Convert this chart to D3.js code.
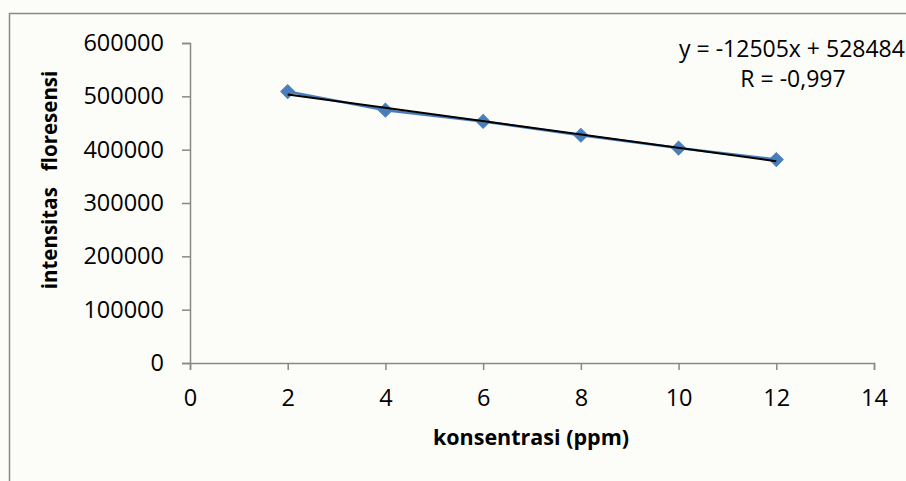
<!DOCTYPE html>
<html>
<head>
<meta charset="utf-8">
<script src="https://cdn.jsdelivr.net/npm/d3@7"></script>
<style>
  html, body { margin: 0; padding: 0; background: #fcfcf8; }
  svg { display: block; }
  text { font-family: "Open Sans", sans-serif; fill: #000; }
</style>
</head>
<body>
<svg id="vis" width="906" height="481"></svg>
<script>
// data
var konsentrasi = [2, 4, 6, 8, 10, 12];
var intensitas = [509000, 474000, 453000, 427000, 403000, 381500];
var xTicks = [0, 2, 4, 6, 8, 10, 12, 14];
var yTicks = [0, 100000, 200000, 300000, 400000, 500000, 600000];
var slope = -12505;
var intercept = 528484;
var eqText = "y = -12505x + 528484";
var rText = "R = -0,997";

var _vis = d3.select("#vis");
var AXIS_COLOR = "#888888";
var FONT = "'Open Sans', sans-serif";

var x = d3.scaleLinear().domain([0, 14]).range([190, 874]);
var y = d3.scaleLinear().domain([0, 600000]).range([363, 43]);

// chart border (right and bottom are cut off in the picture)
_vis.append("rect")
    .attr("x", 9.5).attr("y", 13.5)
    .attr("width", 1000).attr("height", 1000)
    .attr("fill", "none")
    .attr("stroke", AXIS_COLOR).attr("stroke-width", 1.5);

// y axis
var yAxis = _vis.append("g")
    .attr("transform", "translate(" + x(0) + ",0)")
    .call(d3.axisLeft(y).tickValues(yTicks).tickSize(8).tickPadding(18).tickFormat(d3.format("d")));

// x axis
var xAxis = _vis.append("g")
    .attr("transform", "translate(0," + y(0) + ")")
    .call(d3.axisBottom(x).tickValues(xTicks).tickSize(7).tickPadding(19).tickFormat(d3.format("d")));

[xAxis, yAxis].forEach(function(a) {
    a.select(".domain").attr("stroke", AXIS_COLOR).attr("stroke-width", 1.5);
    a.selectAll(".tick line").attr("stroke", AXIS_COLOR).attr("stroke-width", 1.5);
    a.selectAll(".tick text").attr("font-size", 23.5).attr("font-family", FONT).attr("fill", "#000");
});

// data line
var pts = konsentrasi.map(function(k, i) { return [k, intensitas[i]]; });
var line = d3.line().x(function(d) { return x(d[0]); }).y(function(d) { return y(d[1]); });

_vis.append("path")
    .datum(pts)
    .attr("d", line)
    .attr("fill", "none")
    .attr("stroke", "#4a7ebb")
    .attr("stroke-width", 2.5);

// markers (Excel style diamonds)
_vis.selectAll("path.marker")
    .data(pts)
    .enter()
    .append("path")
    .attr("class", "marker")
    .attr("d", d3.symbol(d3.symbolSquare, 95))
    .attr("transform", function(d) { return "translate(" + x(d[0]) + "," + y(d[1]) + ") rotate(45)"; })
    .attr("fill", "#4a7ebb")
    .attr("stroke", "#4a7ebb")
    .attr("stroke-width", 1);

// linear trendline
var x0 = d3.min(konsentrasi), x1 = d3.max(konsentrasi);
_vis.append("path")
    .datum([[x0, slope * x0 + intercept], [x1, slope * x1 + intercept]])
    .attr("d", line)
    .attr("fill", "none")
    .attr("stroke", "#000")
    .attr("stroke-width", 2);

// equation labels
_vis.append("text").text(eqText)
    .attr("x", 792).attr("y", 57)
    .attr("text-anchor", "middle").attr("font-size", 23);
_vis.append("text").text(rText)
    .attr("x", 793).attr("y", 87)
    .attr("text-anchor", "middle").attr("font-size", 23);

// axis titles
_vis.append("text").text("konsentrasi (ppm)")
    .attr("x", 531).attr("y", 445)
    .attr("text-anchor", "middle").attr("font-size", 21.5).attr("font-weight", "bold");

_vis.append("text").text("intensitas\u00a0\u00a0 floresensi")
    .attr("transform", "translate(57,180) rotate(-90)")
    .attr("text-anchor", "middle").attr("font-size", 20.5).attr("font-weight", "bold");
</script>
</body>
</html>
